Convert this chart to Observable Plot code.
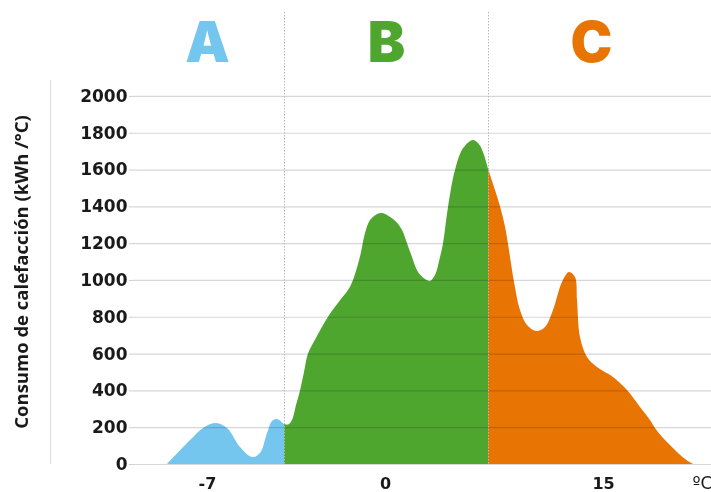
<!DOCTYPE html>
<html>
<head>
<meta charset="utf-8">
<script src="https://cdn.jsdelivr.net/npm/d3@7"></script>
<script src="https://cdn.jsdelivr.net/npm/@observablehq/plot@0.6"></script>
<style>
  html, body { margin: 0; padding: 0; background: #fff; }
  #wrap { position: relative; width: 711px; height: 492px; overflow: hidden; }
  #leftline { position: absolute; left: 50px; top: 80px; width: 1px; height: 384px; background: #d9d9de; }
  #ytitle { position: absolute; left: 20px; top: 272px; transform: translate(-50%, -50%) rotate(-90deg);
            white-space: nowrap; font-family: "Open Sans"; font-weight: 700; font-size: 18.5px; color: #1a1a1a; }
</style>
</head>
<body>
<div id="wrap"><div id="leftline"></div><div id="ytitle"></div></div>
<script>
// Position along the horizontal axis (units) and heating consumption (kWh/ºC)
const posA = [33, 56, 69, 81, 93, 106, 118, 126, 133, 138, 143, 150];
const consumoA = [0, 130, 196, 223, 196, 92, 38, 60, 168, 234, 245, 217];

const posB = [150, 154, 158, 162, 166, 170, 174, 181, 194, 206, 214, 219, 226, 231, 236, 242, 248, 261, 268, 273, 278, 284, 291, 296, 301, 306, 309, 314, 321, 329, 339, 346, 354];
const consumoB = [217, 214, 239, 320, 400, 500, 600, 675, 800, 890, 945, 1000, 1127, 1255, 1326, 1355, 1364, 1322, 1272, 1200, 1125, 1043, 1005, 995, 1027, 1125, 1200, 1397, 1598, 1715, 1761, 1730, 1605];

const posC = [354, 361, 366, 371, 374, 377, 380, 386, 393, 402, 411, 419, 428, 435, 441, 443, 446, 453, 463, 479, 493, 506, 516, 521, 531, 541, 551, 559];
const consumoC = [1605, 1489, 1400, 1290, 1196, 1090, 990, 837, 755, 723, 745, 837, 989, 1043, 1016, 891, 690, 582, 527, 473, 402, 310, 239, 196, 130, 76, 27, 0];

const regions = ["A", "B", "C"];
const regionColors = ["#74c6ee", "#4fa62e", "#e87503"];
const regionLabelPos = [73, 252, 457];
const dividerPos = [150, 354];

const tickPos = [73, 251, 469];
const tickLabels = ["-7", "0", "15"];
const unitPos = [558];
const unitLabel = ["ºC"];

const yTicks = [0, 200, 400, 600, 800, 1000, 1200, 1400, 1600, 1800, 2000];
const yTitle = "Consumo de calefacción (kWh /°C)";

document.getElementById("ytitle").textContent = yTitle;

const toRows = (xs, ys) => xs.map((x, i) => ({x, y: ys[i]}));
const series = [toRows(posA, consumoA), toRows(posB, consumoB), toRows(posC, consumoC)];

const chart = Plot.plot({
  width: 711,
  height: 492,
  marginLeft: 134,
  marginRight: 0,
  marginTop: 12,
  marginBottom: 28,
  style: {fontFamily: "DejaVu Sans", background: "transparent", overflow: "visible"},
  x: {domain: [0, 577], axis: null},
  y: {domain: [0, 2456], axis: null},
  marks: [
    ...series.map((rows, i) => Plot.areaY(rows, {x: "x", y: "y", fill: regionColors[i], curve: "catmull-rom"})),
    Plot.gridY(yTicks, {stroke: "#d6d6dc", strokeOpacity: 1, strokeWidth: 1.2, mixBlendMode: "multiply"}),
    Plot.axisY(yTicks, {tickSize: 5, tickPadding: 2, stroke: "#d0d0d6", fill: "#1a1a1a", fontSize: 17, fontWeight: 700, label: null, tickFormat: d3.format("d")}),
    Plot.ruleX(dividerPos, {stroke: "#b8b8b8", strokeWidth: 1, strokeDasharray: "1.5,1.5"}),
    Plot.text(regions, {x: (d, i) => regionLabelPos[i], text: d => d, fill: (d, i) => regionColors[i], frameAnchor: "top", dy: 32, fontSize: 56, fontWeight: 900, fontFamily: "Inter", lineAnchor: "middle"}),
    Plot.text(tickLabels, {x: (d, i) => tickPos[i], text: d => d, frameAnchor: "bottom", dy: 19, fontSize: 16, fontWeight: 700, fill: "#1a1a1a", lineAnchor: "middle"}),
    Plot.text(unitLabel, {x: (d, i) => unitPos[i], text: d => d, frameAnchor: "bottom", dy: 19, fontSize: 17, fontWeight: 400, fill: "#1a1a1a", textAnchor: "start", lineAnchor: "middle"})
  ]
});
document.getElementById("wrap").appendChild(chart);
chart.style.position = "absolute";
chart.style.left = "0";
chart.style.top = "0";
</script>
</body>
</html>
